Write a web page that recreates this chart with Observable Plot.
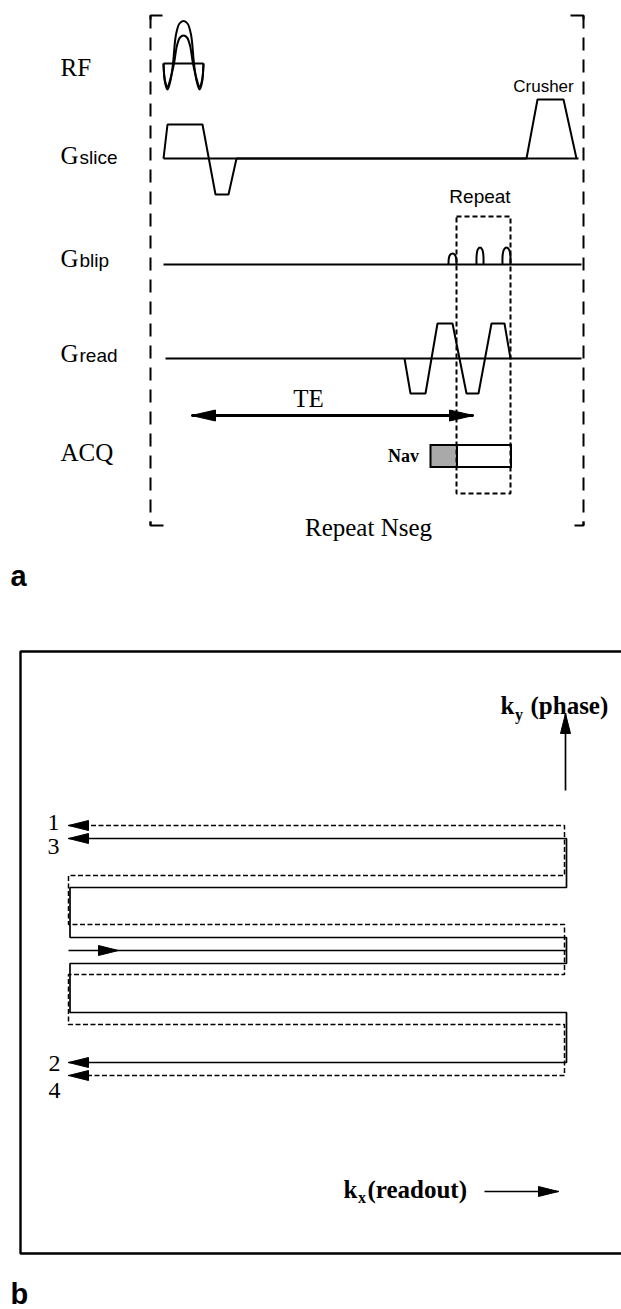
<!DOCTYPE html>
<html><head><meta charset="utf-8">
<script src="https://cdn.jsdelivr.net/npm/d3@7"></script>
<script src="https://cdn.jsdelivr.net/npm/@observablehq/plot@0.6"></script>
<style>html,body{margin:0;padding:0;background:#fff;} svg{display:block}</style>
</head><body><div id="chart"></div>
<script>
// ===== Panel a: pulse-sequence diagram (page px) =====
const rfBaseline = [[163,63],[203,63]];
const rfOuter = [[163,63],[164.5,82],[167,89],[170,80],[172.5,63],[175.5,34],[179,23],[183,20.5],[187,23],[190.5,34],[193.5,63],[196,80],[199,89],[201.5,82],[203,63]];
const rfInner = [[163,63],[164.5,80],[167,86.5],[170,78],[173.5,63],[176.5,45],[179.5,37],[183,35],[186.5,37],[189.5,45],[192.5,63],[196,78],[199,86.5],[201.5,80],[203,63]];
const gsliceBase = [[163,158],[578,158]];
const gslice = [[163,158],[167,124],[202,124],[215,194],[228,194],[236,158],[526,158],[537,99],[563,99],[576,158]];
const gblip = [[163,264],[581,264]];
const blip1 = [[448,264],[448.3,258],[449.5,254.5],[452,253],[454.5,254.5],[455.7,258],[456,264]];
const blip2 = [[476,264],[476.2,254],[477.3,249],[479.5,247],[481.7,249],[482.8,254],[483,264]];
const blip3 = [[502,264],[502.2,254],[503.5,249],[506,247],[508.5,249],[509.8,254],[510,264]];
const greadBase = [[165,358],[581,358]];
const gread = [[404,358],[410,393],[425,393],[437,323],[452,323],[466,393],[478,393],[491,323],[504,323],[510,358]];
const teShaft = [[191,415],[473,415]];
const teHeads = [{x:191,y:415,dx:-1,dy:0},{x:473,y:415,dx:1,dy:0}];
const navBox = [{x1:430.5,x2:457,y1:445,y2:467}];
const acqBox = [{x1:457,x2:511,y1:445,y2:467}];
const repeatBox = [[456,216],[510,216],[510,493],[456,493],[456,216]];
const bracketVerticals = [[[150,15],[150,525]],[[583,15],[583,525]]];
const bracketTicks = [[[162,15],[150,15],[150,19]],[[150,521],[150,525],[163,525]],[[570,15],[583,15],[583,19]],[[583,521],[583,525],[574,525]]];

const serifLabels = [{t:"RF",x:60,y:75},{t:"G",x:60,y:163},{t:"G",x:60,y:266.5},{t:"G",x:60,y:361.5},{t:"ACQ",x:60,y:460}];
const subLabels = [{t:"slice",x:79,y:163},{t:"blip",x:79,y:266.5},{t:"read",x:79,y:361.5}];
const sansNotes = [{t:"Crusher",x:543,y:91.5,s:17},{t:"Repeat",x:479.5,y:202,s:19}];
const serifNotes = [{t:"TE",x:308,y:406.5},{t:"Repeat Nseg",x:368,y:535}];
const navLabel = [{t:"Nav",x:403,y:461.5}];
const panelLetters = [{t:"a",x:10,y:585},{t:"b",x:10,y:1303}];

// ===== Panel b: k-space trajectory =====
const frame = [[621,651],[20,651],[20,1253],[621,1253]];
const solidPath = [[68,838],[566,838],[566,887],[69.5,887],[69.5,937],[566,937],[566,963],[69.5,963],[69.5,1012],[566,1012],[566,1062],[68,1062]];
const centerLine = [[68,950],[566,950]];
const dashedPath = [[68,825],[564,825],[564,875],[68,875],[68,924],[564,924],[564,974],[68,974],[68,1024],[564,1024],[564,1075],[68,1075]];
const kyShaft = [[565,790],[565,713]];
const kxShaft = [[484,1191],[558,1191]];
const headsB = [{x:68,y:825,dx:-1,dy:0},{x:68,y:838,dx:-1,dy:0},{x:68,y:1062,dx:-1,dy:0},{x:68,y:1075,dx:-1,dy:0},{x:118,y:950,dx:1,dy:0},{x:565,y:713,dx:0,dy:-1},{x:558,y:1191,dx:1,dy:0}];
const digits = [{t:"1",x:53,y:829},{t:"3",x:53,y:853},{t:"2",x:54,y:1070},{t:"4",x:54,y:1097}];
const kMain = [{t:"k",x:500,y:713},{t:"k",x:343,y:1197}];
const kSub = [{t:"y",x:514.5,y:719},{t:"x",x:357.5,y:1202}];
const kText = [{t:"(phase)",x:530,y:713},{t:"(readout)",x:367,y:1197}];

// arrowhead triangles (shape helper)
function tri(heads, len, hw) {
  const out = [];
  heads.forEach((h, i) => {
    const bx = h.x - len*h.dx, by = h.y - len*h.dy;
    const px = -h.dy, py = h.dx;
    out.push({id:i, x:h.x, y:h.y}, {id:i, x:bx+hw*px, y:by+hw*py}, {id:i, x:bx-hw*px, y:by-hw*py}, {id:i, x:h.x, y:h.y});
  });
  return out;
}
const P = d => d[0], Q = d => d[1];
const serif = "'Liberation Serif', 'Times New Roman', serif";
const sans = "'Liberation Sans', Arial, sans-serif";
const ln = (data, o={}) => Plot.line(data, {x:P, y:Q, stroke:"black", strokeWidth:2, strokeLinecap:"butt", strokeLinejoin:"miter", ...o});

const chart = Plot.plot({
  width: 621, height: 1309, margin: 0,
  x: {domain:[0,621], range:[0,621]},
  y: {domain:[0,1309], range:[0,1309]},
  axis: null,
  style: {background:"white"},
  marks: [
    // panel a
    ln(rfBaseline, {strokeWidth:1.8}),
    ln(rfOuter, {curve:"catmull-rom", strokeWidth:2}),
    ln(rfInner, {curve:"catmull-rom", strokeWidth:2}),
    ln(gsliceBase),
    ln(gslice),
    ln(gblip),
    ln(blip1, {curve:"catmull-rom"}), ln(blip2, {curve:"catmull-rom"}), ln(blip3, {curve:"catmull-rom"}),
    ln(greadBase),
    ln(gread),
    Plot.rect(navBox, {x1:"x1", x2:"x2", y1:"y1", y2:"y2", fill:"#a9a9a9", stroke:"black", strokeWidth:2}),
    Plot.rect(acqBox, {x1:"x1", x2:"x2", y1:"y1", y2:"y2", fill:"white", stroke:"black", strokeWidth:2}),
    ln(repeatBox, {strokeWidth:2, strokeDasharray:"5,3"}),
    ...bracketVerticals.map(b => ln(b, {strokeWidth:2, strokeDasharray:"13,9"})),
    ...bracketTicks.map(b => ln(b, {strokeWidth:2})),
    ln(teShaft, {strokeWidth:2.8}),
    Plot.line(tri(teHeads, 24, 5.5), {x:"x", y:"y", z:"id", fill:"black", stroke:"black", strokeWidth:1}),
    Plot.text(serifLabels, {x:"x", y:"y", text:"t", fontFamily:serif, fontSize:25, textAnchor:"start", lineAnchor:"bottom", fill:"black"}),
    Plot.text(subLabels, {x:"x", y:"y", text:"t", fontFamily:sans, fontSize:19, textAnchor:"start", lineAnchor:"bottom", fill:"black"}),
    Plot.text(sansNotes, {x:"x", y:"y", text:"t", fontSize:"s", fontFamily:sans, textAnchor:"middle", lineAnchor:"bottom", fill:"black"}),
    Plot.text(serifNotes, {x:"x", y:"y", text:"t", fontFamily:serif, fontSize:25, textAnchor:"middle", lineAnchor:"bottom", fill:"black"}),
    Plot.text(navLabel, {x:"x", y:"y", text:"t", fontFamily:serif, fontWeight:"bold", fontSize:18, textAnchor:"middle", lineAnchor:"bottom", fill:"black"}),
    Plot.text(panelLetters, {x:"x", y:"y", text:"t", fontFamily:sans, fontWeight:"bold", fontSize:29, textAnchor:"start", lineAnchor:"bottom", fill:"black"}),
    // panel b
    ln(frame, {strokeWidth:2.4}),
    ln(dashedPath, {strokeWidth:1.5, strokeDasharray:"5,2.5"}),
    ln(solidPath, {strokeWidth:1.7}),
    ln(centerLine, {strokeWidth:1.7}),
    ln(kyShaft, {strokeWidth:1.7}),
    ln(kxShaft, {strokeWidth:1.7}),
    Plot.line(tri(headsB, 20, 5), {x:"x", y:"y", z:"id", fill:"black", stroke:"black", strokeWidth:1}),
    Plot.text(digits, {x:"x", y:"y", text:"t", fontFamily:serif, fontSize:24, textAnchor:"middle", lineAnchor:"bottom", fill:"black"}),
    Plot.text(kMain, {x:"x", y:"y", text:"t", fontFamily:serif, fontWeight:"bold", fontSize:25, textAnchor:"start", lineAnchor:"bottom", fill:"black"}),
    Plot.text(kSub, {x:"x", y:"y", text:"t", fontFamily:serif, fontWeight:"bold", fontSize:16, textAnchor:"start", lineAnchor:"bottom", fill:"black"}),
    Plot.text(kText, {x:"x", y:"y", text:"t", fontFamily:serif, fontWeight:"bold", fontSize:25, textAnchor:"start", lineAnchor:"bottom", fill:"black"})
  ]
});
document.getElementById("chart").appendChild(chart);
</script>
</body></html>
